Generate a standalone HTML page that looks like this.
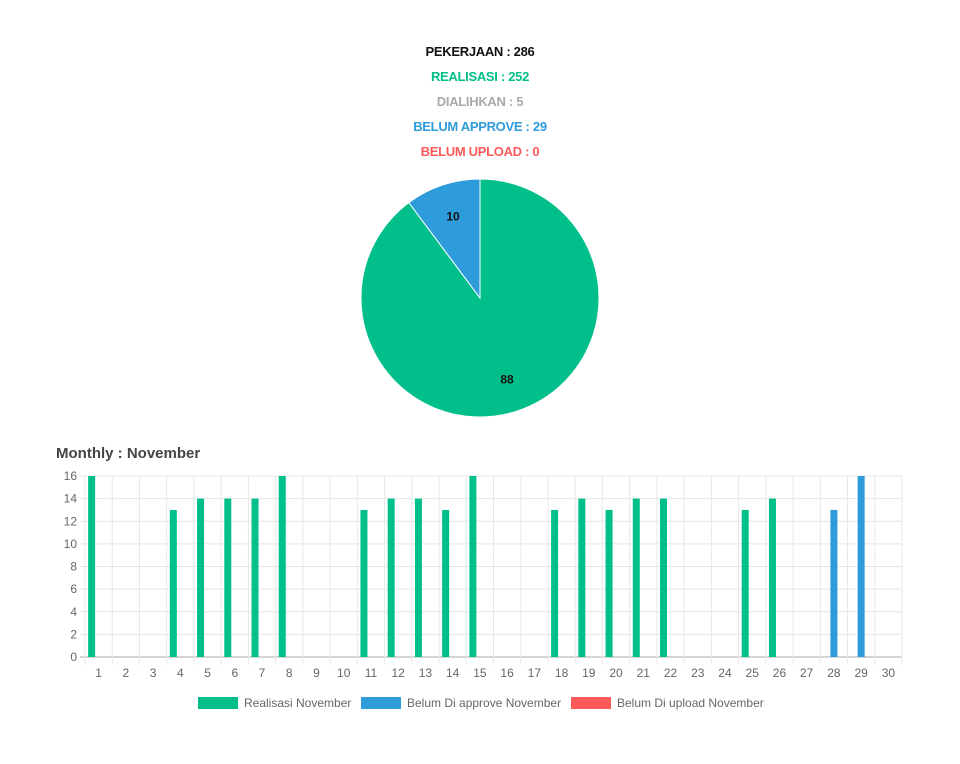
<!DOCTYPE html>
<html><head><meta charset="utf-8">
<style>
body{margin:0;width:960px;height:764px;background:#fff;font-family:"Liberation Sans",sans-serif;overflow:hidden}
.h{position:absolute;left:0;width:960px;text-align:center;font-size:13px;font-weight:bold;letter-spacing:-0.3px}
</style></head><body>
<div class="h" style="top:44px;color:#111">PEKERJAAN : 286</div>
<div class="h" style="top:69px;color:#00bf8a">REALISASI : 252</div>
<div class="h" style="top:94px;color:#aaa">DIALIHKAN : 5</div>
<div class="h" style="top:119px;color:#2e9bdb">BELUM APPROVE : 29</div>
<div class="h" style="top:144px;color:#ff5a5a">BELUM UPLOAD : 0</div>
<svg id="svg" width="960" height="764" style="position:absolute;left:0;top:0"></svg>
<script>
const pieLabels=["Realisasi","Belum Approve","Belum Upload"];
const pieValues=[88,10,0];
const pieColors=["#00bf8a","#2e9bdb","#ff5a5a"];
const days=[1,2,3,4,5,6,7,8,9,10,11,12,13,14,15,16,17,18,19,20,21,22,23,24,25,26,27,28,29,30];
const realisasi=[16,0,0,13,14,14,14,16,0,0,13,14,14,13,16,0,0,13,14,13,14,14,0,0,13,14,0,0,0,0];
const belumApprove=[0,0,0,0,0,0,0,0,0,0,0,0,0,0,0,0,0,0,0,0,0,0,0,0,0,0,0,13,16,0];
const belumUpload=[0,0,0,0,0,0,0,0,0,0,0,0,0,0,0,0,0,0,0,0,0,0,0,0,0,0,0,0,0,0];
const yTicks=[0,2,4,6,8,10,12,14,16];
const legendLabels=["Realisasi November","Belum Di approve November","Belum Di upload November"];
const NS="http://www.w3.org/2000/svg",svg=document.getElementById('svg');
function mk(t,a,p){const e=document.createElementNS(NS,t);for(const k in a)e.setAttribute(k,a[k]);(p||svg).appendChild(e);return e;}
// pie
const cx=480,cy=298,r=119,tot=pieValues.reduce((a,b)=>a+b,0);
let ang=-Math.PI/2;
pieValues.forEach((v,i)=>{
  if(!v)return;
  const a2=ang+v/tot*2*Math.PI,large=(a2-ang)>Math.PI?1:0;
  const p=mk('path',{d:`M${cx},${cy}L${cx+r*Math.cos(ang)},${cy+r*Math.sin(ang)}A${r},${r} 0 ${large} 1 ${cx+r*Math.cos(a2)},${cy+r*Math.sin(a2)}Z`,fill:pieColors[i],stroke:'#fff','stroke-width':1});
  
  
  const m=(ang+a2)/2,t=mk('text',{x:cx+r*0.72*Math.cos(m),y:cy+r*0.72*Math.sin(m)+4,'text-anchor':'middle','font-size':12,'font-weight':'bold',fill:'#111'});
  t.textContent=v;
  
  
  ang=a2;
});
// bar chart
const t0=mk('text',{x:56,y:458,'font-size':15,fill:'#444','font-weight':'bold'});
t0.textContent='Monthly : November';


const L=85,R=902,T=476,B=657,ymax=16,cw=(R-L)/days.length;
const y=v=>B-(v/ymax)*(B-T), x=i=>L+i*cw;
yTicks.forEach(v=>{
  mk('line',{x1:L-5,x2:R,y1:y(v),y2:y(v),stroke:v===0?'#aaa':'#e4e4e4'});
  const t=mk('text',{x:L-8,y:y(v)+4,'text-anchor':'end','font-size':12,fill:'#666'});
  t.textContent=v;
  
  
});
days.forEach((d,i)=>{
  mk('line',{x1:x(i),x2:x(i),y1:T,y2:B+8,stroke:'#e8e8e8'});
  const t=mk('text',{x:x(i)+cw/2,y:B+20,'text-anchor':'middle','font-size':12,fill:'#666'});
  t.textContent=d;
  
  
});
mk('line',{x1:R,x2:R,y1:T,y2:B+8,stroke:'#e8e8e8'});
const bw=7,series=[realisasi,belumApprove,belumUpload];
series.forEach((s,k)=>{
  s.forEach((v,i)=>{
    if(!v)return;
    const cxb=x(i)+cw/2+(k-1)*bw-bw/2;
    const b=mk('rect',{x:cxb,y:y(v),width:bw,height:B-y(v),fill:pieColors[k]});
    
    
  });
});
// legend
const lx=[198,361,571];
legendLabels.forEach((l,k)=>{
  const g=mk('g',{});
  
  
  mk('rect',{x:lx[k],y:697,width:40,height:12,fill:pieColors[k]},g);
  const t=mk('text',{x:lx[k]+46,y:707,'font-size':12,fill:'#666'},g);
  t.textContent=l;
});
</script>
</body></html>
